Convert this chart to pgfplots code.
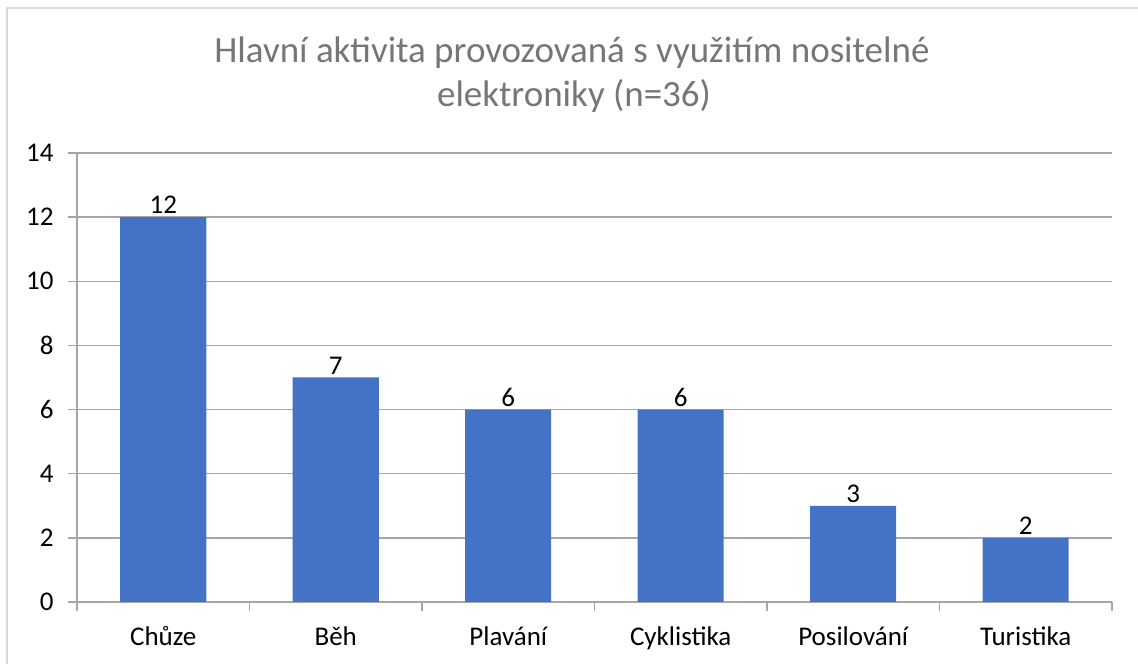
\documentclass[border=0pt]{standalone}
\usepackage{pgfplots}
\pgfplotsset{compat=1.18}
\usepackage{fontspec}
\setmainfont{Carlito}
\definecolor{barblue}{HTML}{4472C4}
\definecolor{gridc}{HTML}{A6A6A6}
\definecolor{titlec}{HTML}{767676}
\definecolor{framec}{HTML}{D9D9D9}
\begin{document}
\begin{tikzpicture}[x=1bp,y=1bp]
\useasboundingbox (0,0) rectangle (1138,664);
\draw[framec, line width=2bp] (7,0) -- (7,656) -- (1138,656);
\node[titlec, font=\fontsize{37bp}{44bp}\selectfont, anchor=base] at (572,601) {Hlavní aktivita provozovaná s využitím nositelné};
\node[titlec, font=\fontsize{37bp}{44bp}\selectfont, anchor=base] at (574,557) {elektroniky (n=36)};
\begin{axis}[
  at={(77bp,62bp)}, anchor=south west,
  scale only axis, width=1035bp, height=449bp,
  ymin=0, ymax=14, ytick={0,2,4,6,8,10,12,14},
  yticklabels={0,2,4,6,8,10,12,14},
  xmin=-0.5, xmax=5.5,
  xtick={0,1,2,3,4,5},
  xticklabels={Chůze,Běh,Plavání,Cyklistika,Posilování,Turistika},
  minor xtick={-0.5,0.5,1.5,2.5,3.5,4.5,5.5},
  axis lines*=left,
  axis line style={gridc, line width=1.3bp},
  ymajorgrids,
  grid style={gridc, line width=1.3bp},
  tick align=outside,
  major tick length=9bp,
  minor tick length=9bp,
  x tick style={draw=none},
  minor x tick style={draw=gridc, line width=1.3bp},
  y tick style={gridc, line width=1.3bp},
  xticklabel style={font=\fontsize{27bp}{32bp}\selectfont, black, yshift=-12bp},
  yticklabel style={font=\fontsize{27bp}{32bp}\selectfont, black, xshift=-11bp},
  ybar, bar width=86bp,
  point meta=explicit symbolic,
  nodes near coords,
  nodes near coords style={font=\fontsize{27bp}{32bp}\selectfont, black, inner sep=3bp},
]
\addplot[fill=barblue, draw=none] coordinates {(0,12) [12] (1,7) [7] (2,6) [6] (3,6) [6] (4,3) [3] (5,2) [2]};
\end{axis}
\end{tikzpicture}
\end{document}
